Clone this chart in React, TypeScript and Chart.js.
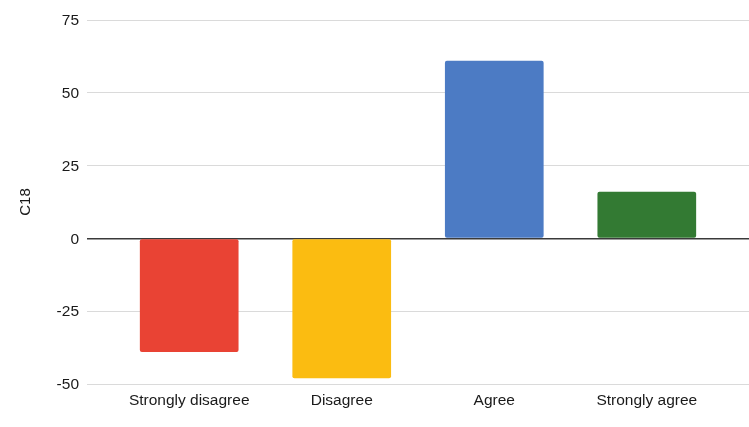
import React, { useEffect, useRef } from "react";
import { Chart, registerables } from "chart.js";

Chart.register(...registerables);

// Survey responses for item C18
const categories = ["Strongly disagree", "Disagree", "Agree", "Strongly agree"];
const values = [-39, -48, 61, 16];
const barColors = ["#E94334", "#FBBC11", "#4C7BC4", "#337A33"];
const yTicks = [-50, -25, 0, 25, 50, 75];

const FONT = "'Liberation Sans', Arial, Helvetica, sans-serif";

export default function App() {
  const canvasRef = useRef<HTMLCanvasElement | null>(null);

  useEffect(() => {
    document.body.style.margin = "0";
    const canvas = canvasRef.current;
    if (!canvas) return;

    const chart = new Chart(canvas, {
      type: "bar",
      data: {
        datasets: [
          {
            label: "C18",
            data: categories.map((_, i) => ({ x: i, y: values[i] })),
            backgroundColor: barColors,
            borderWidth: 0,
            borderRadius: 2,
            borderSkipped: false,
            barPercentage: 0.647,
            categoryPercentage: 1,
          },
        ],
      },
      options: {
        animation: false,
        responsive: true,
        maintainAspectRatio: false,
        layout: { padding: { top: 20, right: 0, bottom: 0, left: 0 } },
        plugins: {
          legend: { display: false },
          tooltip: { enabled: false },
        },
        scales: {
          x: {
            type: "linear",
            offset: false,
            min: -0.67,
            max: categories.length - 1 + 0.67,
            grid: { display: false, offset: false },
            border: { display: false },
            afterBuildTicks: (scale: any) => {
              scale.ticks = categories.map((_, i) => ({ value: i }));
            },
            afterFit: (scale: any) => {
              scale.height = 43;
            },
            ticks: {
              autoSkip: false,
              maxRotation: 0,
              padding: -1,
              color: "#1a1a1a",
              font: { family: FONT, size: 15.5 },
              callback: (v: any) => categories[Number(v)] ?? "",
            },
          },
          y: {
            min: yTicks[0],
            max: yTicks[yTicks.length - 1],
            afterBuildTicks: (scale: any) => {
              scale.ticks = yTicks.map((v) => ({ value: v }));
            },
            afterFit: (scale: any) => {
              scale.width = 87;
            },
            border: { display: false },
            grid: {
              drawTicks: false,
              color: (ctx: any) => (ctx.tick && ctx.tick.value === 0 ? "#3a3a3a" : "#dadada"),
              lineWidth: (ctx: any) => (ctx.tick && ctx.tick.value === 0 ? 1.5 : 1),
            },
            ticks: {
              padding: 8,
              labelOffset: 1,
              color: "#1a1a1a",
              font: { family: FONT, size: 15.5 },
            },
            title: {
              display: true,
              text: "C18",
              color: "#1a1a1a",
              font: { family: FONT, size: 15 },
              padding: { top: 17, bottom: 0 },
            },
          },
        },
      },
    });

    return () => chart.destroy();
  }, []);

  return (
    <div style={{ position: "relative", width: 749, height: 427, background: "#fff" }}>
      <canvas ref={canvasRef} />
    </div>
  );
}
